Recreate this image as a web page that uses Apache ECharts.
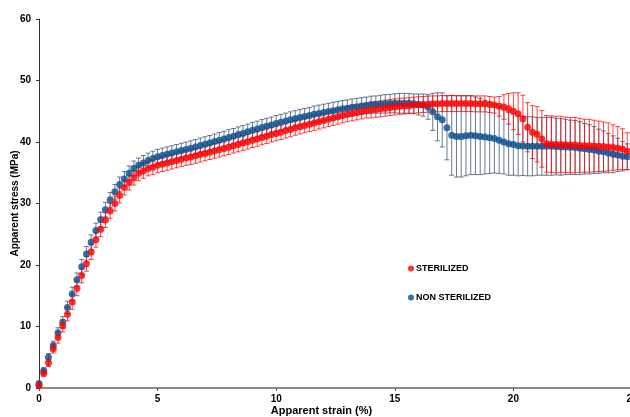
<!DOCTYPE html>
<html>
<head>
<meta charset="utf-8">
<script src="https://cdn.jsdelivr.net/npm/echarts@6/dist/echarts.min.js"></script>
<style>
  html, body { margin: 0; padding: 0; overflow: hidden; background: #fff; }
  #chart { width: 640px; height: 417px; }
</style>
</head>
<body>
<div id="chart"></div>
<script>
// apparent strain (%), one point every 0.2
var strain = [
  0, 0.2, 0.4, 0.6, 0.8, 1, 1.2, 1.4, 1.6, 1.8, 2, 2.2, 2.4, 2.6, 2.8, 3, 3.2, 3.4, 3.6, 3.8, 4, 4.2, 4.4, 4.6, 4.8,
  5, 5.2, 5.4, 5.6, 5.8, 6, 6.2, 6.4, 6.6, 6.8, 7, 7.2, 7.4, 7.6, 7.8, 8, 8.2, 8.4, 8.6, 8.8, 9, 9.2, 9.4, 9.6, 9.8,
  10, 10.2, 10.4, 10.6, 10.8, 11, 11.2, 11.4, 11.6, 11.8, 12, 12.2, 12.4, 12.6, 12.8, 13, 13.2, 13.4, 13.6, 13.8,
  14, 14.2, 14.4, 14.6, 14.8, 15, 15.2, 15.4, 15.6, 15.8, 16, 16.2, 16.4, 16.6, 16.8, 17, 17.2, 17.4, 17.6, 17.8,
  18, 18.2, 18.4, 18.6, 18.8, 19, 19.2, 19.4, 19.6, 19.8, 20, 20.2, 20.4, 20.6, 20.8, 21, 21.2, 21.4, 21.6, 21.8,
  22, 22.2, 22.4, 22.6, 22.8, 23, 23.2, 23.4, 23.6, 23.8, 24, 24.2, 24.4, 24.6, 24.8
];

// STERILIZED - apparent stress (MPa)
var sterilized = [
  0.4, 2.4, 4.1, 6.4, 8.2, 10.1, 12.0, 14.0, 16.2, 18.3, 20.2, 22.1, 24.1, 25.8, 27.3,
  28.8, 30.0, 31.3, 32.6, 33.4, 34.2, 34.9, 35.3, 35.7, 35.9,
  36.2, 36.4, 36.6, 36.8, 37.0, 37.2, 37.4, 37.55, 37.75, 37.95,
  38.15, 38.35, 38.55, 38.75, 38.95, 39.15, 39.4, 39.6, 39.85, 40.05,
  40.3, 40.5, 40.75, 40.95, 41.2, 41.4, 41.6, 41.85, 42.05, 42.3,
  42.5, 42.7, 42.9, 43.1, 43.3, 43.5, 43.7, 43.9, 44.1, 44.3,
  44.5, 44.65, 44.8, 44.95, 45.1, 45.2, 45.3, 45.4, 45.5, 45.6,
  45.7, 45.8, 45.85, 45.9, 46.0, 46.05, 46.1, 46.15, 46.2, 46.2,
  46.25, 46.25, 46.25, 46.25, 46.25, 46.25, 46.25, 46.2, 46.2, 46.2,
  46.1, 46.0, 45.8, 45.7, 45.4, 45.0, 44.6, 43.8, 42.4, 41.6,
  41.25, 40.5, 39.7, 39.65, 39.6, 39.6, 39.55, 39.5, 39.5, 39.45,
  39.4, 39.4, 39.35, 39.3, 39.25, 39.2, 39.1, 39.0, 38.85, 38.5
];
var sterilizedErr = [
  0.3, 0.5, 0.6, 0.7, 0.9, 1.0, 1.1, 1.2, 1.2, 1.2, 1.2, 1.2, 1.2, 1.2, 1.2,
  1.2, 1.2, 1.2, 1.2, 1.2, 1.2, 1.2, 1.2, 1.2, 1.2,
  1.2, 1.2, 1.2, 1.2, 1.2, 1.2, 1.2, 1.2, 1.2, 1.2,
  1.2, 1.2, 1.2, 1.2, 1.2, 1.2, 1.2, 1.2, 1.2, 1.2,
  1.2, 1.2, 1.2, 1.2, 1.2, 1.2, 1.2, 1.2, 1.2, 1.2,
  1.2, 1.2, 1.2, 1.2, 1.2, 1.2, 1.2, 1.2, 1.2, 1.2,
  1.2, 1.2, 1.2, 1.2, 1.2, 1.3, 1.3, 1.3, 1.3, 1.3,
  1.3, 1.3, 1.3, 1.3, 1.3, 1.3, 1.3, 1.3, 1.3, 1.3,
  1.3, 1.3, 1.3, 1.3, 1.3, 1.3, 1.3, 1.3, 1.3, 1.3,
  1.3, 1.3, 1.6, 2.0, 2.5, 3.0, 3.4, 3.8, 4.0, 4.3,
  4.5, 4.6, 4.6, 4.6, 4.6, 4.6, 4.5, 4.5, 4.5, 4.4,
  4.3, 4.3, 4.2, 4.1, 4.0, 3.9, 3.7, 3.5, 3.3, 3.0
];

// NON STERILIZED - apparent stress (MPa)
var nonSterilized = [
  0.7, 2.8, 5.0, 6.9, 9.0, 10.7, 13.1, 15.3, 17.6, 19.7, 21.8, 23.7, 25.6, 27.4, 29.0,
  30.6, 31.9, 33.1, 34.0, 34.9, 35.7, 36.2, 36.6, 37.0, 37.3,
  37.6, 37.8, 38.0, 38.2, 38.4, 38.6, 38.8, 39.0, 39.2, 39.45,
  39.65, 39.85, 40.1, 40.3, 40.5, 40.75, 40.95, 41.2, 41.4, 41.65,
  41.9, 42.1, 42.35, 42.55, 42.75, 43.0, 43.2, 43.4, 43.6, 43.8,
  44.0, 44.15, 44.3, 44.5, 44.65, 44.8, 44.95, 45.1, 45.25, 45.4,
  45.5, 45.65, 45.75, 45.85, 45.95, 46.05, 46.1, 46.15, 46.2, 46.25,
  46.3, 46.3, 46.3, 46.3, 46.2, 46.1, 46.0, 45.7, 44.9, 44.1,
  43.6, 42.3, 41.1, 40.9, 40.9, 41.0, 41.1, 41.0, 40.9, 40.8,
  40.7, 40.55, 40.3, 40.0, 39.7, 39.6, 39.4, 39.35, 39.3, 39.3,
  39.3, 39.3, 39.3, 39.3, 39.25, 39.2, 39.2, 39.15, 39.1, 39.0,
  38.9, 38.8, 38.7, 38.5, 38.4, 38.2, 38.0, 37.9, 37.7, 37.6
];
var nonSterilizedErr = [
  0.4, 0.5, 0.6, 0.7, 0.8, 0.9, 1.0, 1.1, 1.1, 1.2, 1.2, 1.2, 1.2, 1.2, 1.2,
  1.2, 1.2, 1.2, 1.2, 1.2, 1.2, 1.2, 1.2, 1.2, 1.2,
  1.2, 1.2, 1.2, 1.2, 1.2, 1.2, 1.2, 1.2, 1.2, 1.2,
  1.2, 1.2, 1.2, 1.25, 1.25, 1.25, 1.25, 1.25, 1.25, 1.25,
  1.3, 1.3, 1.3, 1.3, 1.3, 1.3, 1.3, 1.3, 1.3, 1.3,
  1.3, 1.3, 1.3, 1.35, 1.35, 1.35, 1.35, 1.35, 1.35, 1.35,
  1.35, 1.35, 1.35, 1.35, 1.35, 1.4, 1.4, 1.45, 1.5, 1.5,
  1.55, 1.6, 1.6, 1.6, 1.6, 1.7, 1.8, 2.0, 3.0, 3.9,
  4.4, 5.2, 6.5, 6.6, 6.6, 6.5, 6.4, 6.3, 6.2, 6.0,
  5.8, 5.6, 5.4, 5.2, 5.1, 5.0, 4.9, 4.8, 4.8, 4.8,
  4.7, 4.7, 4.7, 4.7, 4.6, 4.6, 4.5, 4.4, 4.4, 4.3,
  4.1, 4.0, 3.8, 3.6, 3.4, 3.2, 3.0, 2.7, 2.4, 2.1
];

var xTicks = [0, 5, 10, 15, 20, 25];
var yTicks = [0, 10, 20, 30, 40, 50, 60];

var font = '"Liberation Sans", Arial, sans-serif';

function pack(ys, errs) {
  return strain.map(function (s, i) { return [s, ys[i], errs[i]]; });
}

// vertical bar with caps, drawn through the axes
function errorBars(color) {
  return function (params, api) {
    var x = api.value(0), y = api.value(1), e = api.value(2);
    var hi = api.coord([x, y + e]);
    var lo = api.coord([x, y - e]);
    var w = 2.5;
    var st = { stroke: color, lineWidth: 1 };
    return {
      type: 'group',
      children: [
        { type: 'line', shape: { x1: hi[0], y1: hi[1], x2: lo[0], y2: lo[1] }, style: st },
        { type: 'line', shape: { x1: hi[0] - w, y1: hi[1], x2: hi[0] + w, y2: hi[1] }, style: st },
        { type: 'line', shape: { x1: lo[0] - w, y1: lo[1], x2: lo[0] + w, y2: lo[1] }, style: st }
      ]
    };
  };
}

var chart = echarts.init(document.getElementById('chart'));

var option = {
  animation: false,
  textStyle: { fontFamily: font },
  grid: { left: 39, right: 8, top: 19, bottom: 29, outerBoundsMode: 'none', containLabel: false },
  legend: {
    data: ['STERILIZED', 'NON STERILIZED'],
    orient: 'vertical',
    left: 403,
    top: 259,
    itemGap: 20,
    itemWidth: 6,
    itemHeight: 6,
    icon: 'circle',
    textStyle: { fontFamily: font, fontWeight: 'bold', fontSize: 9, color: '#000', padding: [0, 0, 0, -3] }
  },
  xAxis: {
    type: 'value',
    min: 0,
    max: 25,
    interval: 5,
    name: 'Apparent strain (%)',
    nameLocation: 'middle',
    nameGap: 17,
    nameMoveOverlap: false,
    nameTextStyle: { fontFamily: font, fontWeight: 'bold', fontSize: 11, color: '#000', padding: [0, 28, 0, 0] },
    axisLine: { lineStyle: { color: '#8a8a8a', width: 2 } },
    axisTick: { show: true, length: 3, lineStyle: { color: '#555' } },
    axisLabel: {
      fontFamily: font, fontWeight: 'bold', fontSize: 10, color: '#000', margin: 6,
      customValues: xTicks
    },
    splitLine: { show: false }
  },
  yAxis: {
    type: 'value',
    min: 0,
    max: 60,
    interval: 10,
    name: 'Apparent stress (MPa)',
    nameLocation: 'middle',
    nameGap: 19,
    nameMoveOverlap: false,
    nameTextStyle: { fontFamily: font, fontWeight: 'bold', fontSize: 10, color: '#000' },
    axisLine: { show: true, lineStyle: { color: '#333', width: 1 } },
    axisTick: { show: true, length: 3, lineStyle: { color: '#333' } },
    axisLabel: {
      fontFamily: font, fontWeight: 'bold', fontSize: 10, color: '#000', margin: 8,
      customValues: yTicks
    },
    splitLine: { show: false }
  },
  series: [
    {
      name: 'non-sterilized-err',
      type: 'custom',
      z: 1,
      renderItem: errorBars('rgba(40, 65, 100, 0.7)'),
      encode: { x: 0, y: 1 },
      data: pack(nonSterilized, nonSterilizedErr)
    },
    {
      name: 'sterilized-err',
      type: 'custom',
      z: 2,
      renderItem: errorBars('rgba(255, 0, 0, 0.75)'),
      encode: { x: 0, y: 1 },
      data: pack(sterilized, sterilizedErr)
    },
    {
      name: 'NON STERILIZED',
      type: 'scatter',
      z: 3,
      symbol: 'circle',
      symbolSize: 7,
      itemStyle: { color: '#0a4f8f' },
      data: strain.map(function (s, i) { return [s, nonSterilized[i]]; })
    },
    {
      name: 'STERILIZED',
      type: 'scatter',
      z: 4,
      symbol: 'circle',
      symbolSize: 7,
      itemStyle: { color: '#ff0000' },
      data: strain.map(function (s, i) { return [s, sterilized[i]]; })
    }
  ]
};

chart.setOption(option);
</script>
</body>
</html>
